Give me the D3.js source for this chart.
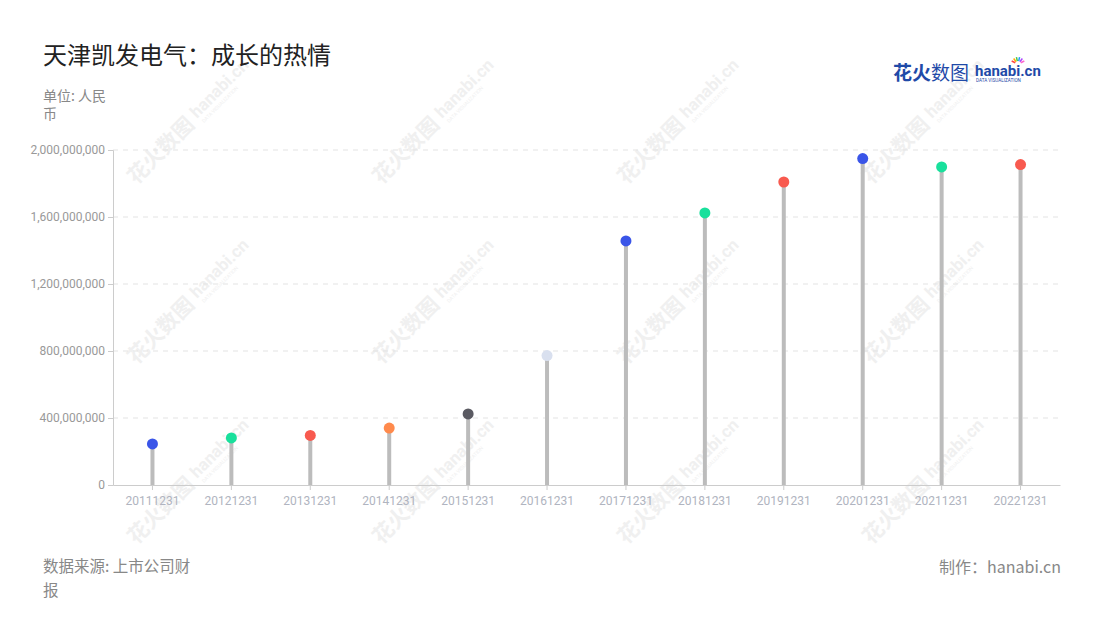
<!DOCTYPE html>
<html><head><meta charset="utf-8">
<script src="https://cdn.jsdelivr.net/npm/d3@7/dist/d3.min.js"></script>
<style>body{margin:0;background:#fff;}svg{display:block;font-family:"Noto Sans CJK SC","Noto Sans",sans-serif;}</style>
</head><body><svg id="c" width="1100" height="620"></svg>
<script>
const categories = ["20111231","20121231","20131231","20141231","20151231","20161231","20171231","20181231","20191231","20201231","20211231","20221231"];
const values = [245e6, 281e6, 296e6, 340e6, 424e6, 773e6, 1457e6, 1624e6, 1809e6, 1949e6, 1899e6, 1913e6];
const pointColors = ["#3a55e8","#19e09c","#f85a4f","#ff8a4c","#5a5a62","#d9e0ef","#3a55e8","#19e09c","#f85a4f","#3a55e8","#19e09c","#f85a4f"];
const yTicks = [0, 400e6, 800e6, 1200e6, 1600e6, 2000e6];

const svg = d3.select("#c");
const M = {l:113, r:1060, t:150, b:485};

// watermarks
const wm = svg.append("g");
[180,425,670,915].forEach(cx=>[130,310,490].forEach(cy=>{
  const g = wm.append("g").attr("transform",`translate(${cx},${cy}) rotate(-45)`).attr("fill","#f0f0f0");
  g.append("text").attr("x",-70).attr("y",8).attr("font-size",21).attr("font-weight","bold").text("花火数图");
  g.append("text").attr("x",20).attr("y",4).attr("font-size",17).attr("font-weight","bold").attr("font-family","Roboto,sans-serif").text("hanabi.cn");
  g.append("text").attr("x",22).attr("y",12).attr("font-size",5).attr("font-family","Roboto,sans-serif").text("DATA VISUALIZATION");
}));

const x = d3.scaleBand().domain(categories).range([M.l, M.r]);
const y = d3.scaleLinear().domain([0, 2000e6]).range([M.b, M.t]);

// grid
svg.append("g").selectAll("line").data(yTicks.slice(1)).join("line")
  .attr("x1",M.l).attr("x2",M.r).attr("y1",d=>y(d)).attr("y2",d=>y(d))
  .attr("stroke","#e3e3e3").attr("stroke-dasharray","5,5");

// y axis
const ya = svg.append("g").attr("transform",`translate(${M.l},0)`)
  .call(d3.axisLeft(y).tickValues(yTicks).tickSize(5).tickPadding(3).tickFormat(d3.format(",")));
ya.select(".domain").attr("stroke","#ccc");
ya.selectAll(".tick line").attr("stroke","#ccc");
ya.selectAll("text").attr("fill","#999").attr("font-size",12).attr("font-family","Roboto,sans-serif");

// x axis
const xa = svg.append("g").attr("transform",`translate(0,${M.b})`)
  .call(d3.axisBottom(x).tickSize(5).tickPadding(6).tickSizeOuter(0));
xa.select(".domain").attr("stroke","#ccc");
xa.selectAll(".tick line").attr("stroke","#ccc");
xa.selectAll("text").attr("fill","#b0b4c0").attr("font-size",12).attr("font-family","Roboto,sans-serif");

// stems
const data = categories.map((c,i)=>({c, v:values[i], col:pointColors[i]}));
svg.append("g").selectAll("line").data(data).join("line")
  .attr("x1",d=>x(d.c)+x.bandwidth()/2).attr("x2",d=>x(d.c)+x.bandwidth()/2)
  .attr("y1",y(0)).attr("y2",d=>y(d.v))
  .attr("stroke","#bcbcbc").attr("stroke-width",4);
svg.append("g").selectAll("circle").data(data).join("circle")
  .attr("cx",d=>x(d.c)+x.bandwidth()/2).attr("cy",d=>y(d.v)).attr("r",5.5)
  .attr("fill",d=>d.col);

// texts
svg.append("text").attr("x",43).attr("y",64).attr("font-size",24).attr("fill","#222").text("天津凯发电气：成长的热情");
svg.append("text").attr("x",43).attr("y",101).attr("font-size",14).attr("fill","#888").text("单位: 人民");
svg.append("text").attr("x",43).attr("y",119).attr("font-size",14).attr("fill","#888").text("币");
svg.append("text").attr("x",43).attr("y",572).attr("font-size",15.5).attr("fill","#888").text("数据来源: 上市公司财");
svg.append("text").attr("x",43).attr("y",596).attr("font-size",15.5).attr("fill","#888").text("报");
svg.append("text").attr("x",1061).attr("y",573).attr("font-size",16).attr("fill","#888").attr("text-anchor","end").text("制作：hanabi.cn");

// logo
const lg = svg.append("g");
lg.append("text").attr("x",893).attr("y",80).attr("font-size",19).attr("font-weight","bold").attr("fill","#1f4aa8").text("花火");
lg.append("text").attr("x",931).attr("y",80).attr("font-size",19).attr("fill","#1f4aa8").text("数图");
lg.append("text").attr("x",975).attr("y",76).attr("font-size",15).attr("font-weight","bold").attr("fill","#1f4aa8").attr("font-family","Roboto,sans-serif").text("hanabi.cn");
lg.append("text").attr("x",976).attr("y",82).attr("font-size",4.6).attr("fill","#1f4aa8").attr("font-family","Roboto,sans-serif").text("DATA VISUALIZATION");
const sc = ["#f44","#fa0","#4c4","#29f","#a4f","#f6c"];
sc.forEach((c,i)=>{const a=-Math.PI/2+(i-2.5)*0.45; lg.append("line").attr("x1",1018+Math.cos(a)*3).attr("y1",64+Math.sin(a)*3).attr("x2",1018+Math.cos(a)*7).attr("y2",64+Math.sin(a)*7).attr("stroke",c).attr("stroke-width",1.5);});
</script></body></html>
